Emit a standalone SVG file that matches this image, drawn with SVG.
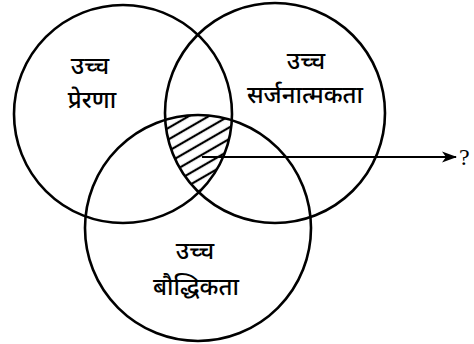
<svg xmlns="http://www.w3.org/2000/svg" width="474" height="344" viewBox="0 0 474 344">
  <style>
    .c { fill: none; stroke: #000; stroke-width: 2.6; }
    .t { font-family: "Noto Sans Devanagari", "Noto Serif Devanagari", "Lohit Devanagari", "Noto Sans", sans-serif; font-size: 24px; font-weight: 500; fill: #000; text-anchor: middle; }
    .q { font-family: "Liberation Serif", serif; font-size: 24px; fill: #000; }
    .ln { stroke: #000; stroke-width: 2.2; }
  </style>
  <defs>
    <pattern id="hatch" patternUnits="userSpaceOnUse" width="10" height="10" patternTransform="rotate(-30)">
      <line x1="0" y1="5" x2="10" y2="5" stroke="#000" stroke-width="2.2"/>
    </pattern>
    <clipPath id="clipL"><circle cx="123" cy="114" r="109"/></clipPath>
    <clipPath id="clipR"><circle cx="275" cy="113" r="110"/></clipPath>
    <clipPath id="clipB"><circle cx="198" cy="228" r="113"/></clipPath>
    <marker id="arr" markerWidth="15" markerHeight="12" refX="14" refY="6" orient="auto" markerUnits="userSpaceOnUse">
      <path d="M0,0.5 L15,6 L0,11.5 L4,6 Z" fill="#000"/>
    </marker>
  </defs>
  <g id="hatched">
    <g clip-path="url(#clipL)">
      <g clip-path="url(#clipR)">
        <rect x="100" y="100" width="200" height="120" fill="url(#hatch)" clip-path="url(#clipB)"/>
      </g>
    </g>
  </g>
  <g id="circle-prerna">
    <circle class="c" cx="123" cy="114" r="109"/>
    <text class="t" x="90" y="74">उच्च</text>
    <text class="t" x="92" y="108">प्रेरणा</text>
  </g>
  <g id="circle-srijanatmakta">
    <circle class="c" cx="275" cy="113" r="110"/>
    <text class="t" x="306" y="69">उच्च</text>
    <text class="t" x="305" y="103">सर्जनात्मकता</text>
  </g>
  <g id="circle-bauddhikta">
    <circle class="c" cx="198" cy="228" r="113"/>
    <text class="t" x="195" y="259">उच्च</text>
    <text class="t" x="196" y="295">बौद्धिकता</text>
  </g>
  <g id="connectors">
    <line class="ln" x1="202" y1="157" x2="456" y2="157" marker-end="url(#arr)"/>
  </g>
  <g id="label-q">
    <text class="q" x="459" y="165">?</text>
  </g>
</svg>
